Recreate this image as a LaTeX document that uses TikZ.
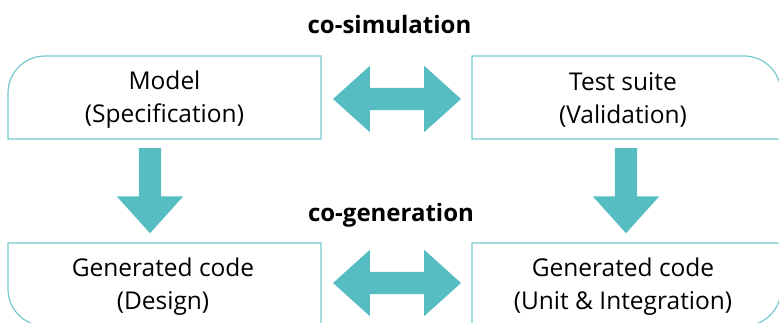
\documentclass[tikz,border=0pt]{standalone}
\usepackage{fontspec}
\setmainfont{Open Sans}
\usetikzlibrary{shapes.arrows}
\definecolor{arrowteal}{RGB}{86,189,195}
\definecolor{lineteal}{RGB}{118,201,206}
\begin{document}
\begin{tikzpicture}[x=1pt,y=1pt,
    boxline/.style={draw=lineteal,line width=1.2pt},
    boxtext/.style={align=center,font=\fontsize{24.5}{33}\selectfont,inner sep=0pt},
    heading/.style={anchor=base,font=\fontsize{24}{28}\selectfont\bfseries,inner sep=0pt},
    fat/.style={fill=arrowteal,draw=none,inner sep=11pt},
    twoway/.style={fat,double arrow,double arrow head extend=22pt,
      double arrow tip angle=84,minimum height=128pt},
    oneway/.style={fat,single arrow,single arrow head extend=22pt,
      single arrow tip angle=84,minimum height=85pt,rotate=-90}]
  \useasboundingbox (0,0) rectangle (779,322);
  % box outlines
  \draw[boxline] (8,183) -- (8,229) arc[start angle=180,end angle=90,radius=37]
    -- (321,266) -- (321,183) -- cycle;
  \draw[boxline] (472,183) -- (472,266) -- (744,266)
    arc[start angle=90,end angle=0,radius=37] -- (781,183) -- cycle;
  \draw[boxline] (8,79) -- (321,79) -- (321,-4) -- (45,-4)
    arc[start angle=270,end angle=180,radius=37] -- cycle;
  \draw[boxline] (472,79) -- (781,79) -- (781,33)
    arc[start angle=0,end angle=-90,radius=37] -- (472,-4) -- cycle;
  % texts
  \node[boxtext] (model) at (164.5,222) {Model\\(Specification)};
  \node[boxtext] (tests) at (623,222) {Test suite\\(Validation)};
  \node[boxtext] (design) at (163,35) {Generated code\\(Design)};
  \node[boxtext] (unit) at (623,35) {Generated code\\(Unit \& Integration)};
  \node[heading] (cosim) at (389.5,288) {co-simulation};
  \node[heading] (cogen) at (391,101) {co-generation};
  % block arrows
  \node[twoway] (simarrow) at (397,223) {};
  \node[twoway] (genarrow) at (397,39) {};
  \node[oneway] (specdown) at (150,137.5) {};
  \node[oneway] (valdown) at (626,137.5) {};
\end{tikzpicture}
\end{document}
